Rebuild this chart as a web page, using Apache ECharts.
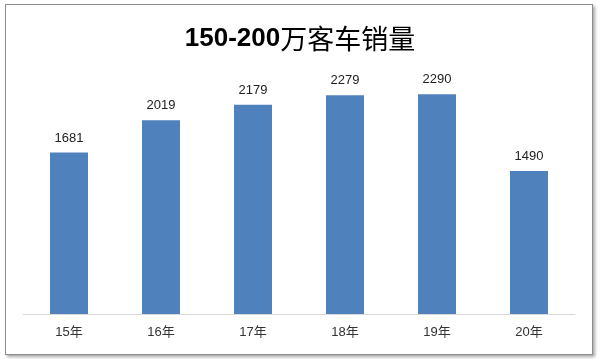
<!DOCTYPE html>
<html>
<head>
<meta charset="utf-8">
<script src="https://cdn.jsdelivr.net/npm/echarts@6/dist/echarts.min.js"></script>
<style>
html,body{margin:0;padding:0;background:#fff;}
#frame{position:absolute;left:5px;top:4px;width:586px;height:349px;border:1px solid #8c8c8c;box-shadow:2px 2px 3px rgba(0,0,0,0.35);background:#fff;}
#chart{position:absolute;left:0;top:0;width:600px;height:359px;}
</style>
</head>
<body>
<div id="frame"></div>
<div id="chart"></div>
<script>
const titleNum = '150-200';
const titleCJK = '万客车销量';
const categories = ['15年','16年','17年','18年','19年','20年'];
const sales = [1681, 2019, 2179, 2279, 2290, 1490];

const chart = echarts.init(document.getElementById('chart'));
chart.setOption({
  animation: false,
  title: {
    text: '{a|' + titleNum + '}{b|' + titleCJK + '}',
    left: 'center',
    top: 20,
    textStyle: {
      rich: {
        a: {fontFamily: 'Liberation Sans', fontSize: 26, fontWeight: 'bold', color: '#000'},
        b: {fontFamily: 'Noto Sans CJK SC', fontSize: 27, fontWeight: 'normal', color: '#000'}
      }
    }
  },
  grid: {left: 23, right: 25, top: 74, bottom: 45, containLabel: false},
  xAxis: {
    type: 'category',
    data: categories,
    axisLine: {lineStyle: {color: '#d9d9d9', width: 1}},
    axisTick: {show: false},
    axisLabel: {color: '#333', fontSize: 13, margin: 12, fontFamily: 'Liberation Sans, Noto Sans CJK SC'}
  },
  yAxis: {
    type: 'value', min: 0, max: 2500,
    show: false,
    splitLine: {show: false}
  },
  series: [{
    type: 'bar',
    data: sales,
    barWidth: 38,
    itemStyle: {color: '#4f81bd'},
    label: {show: true, position: 'top', distance: 8, color: '#222', fontSize: 13, fontFamily: 'Liberation Sans, Noto Sans'}
  }]
});
</script>
</body>
</html>
